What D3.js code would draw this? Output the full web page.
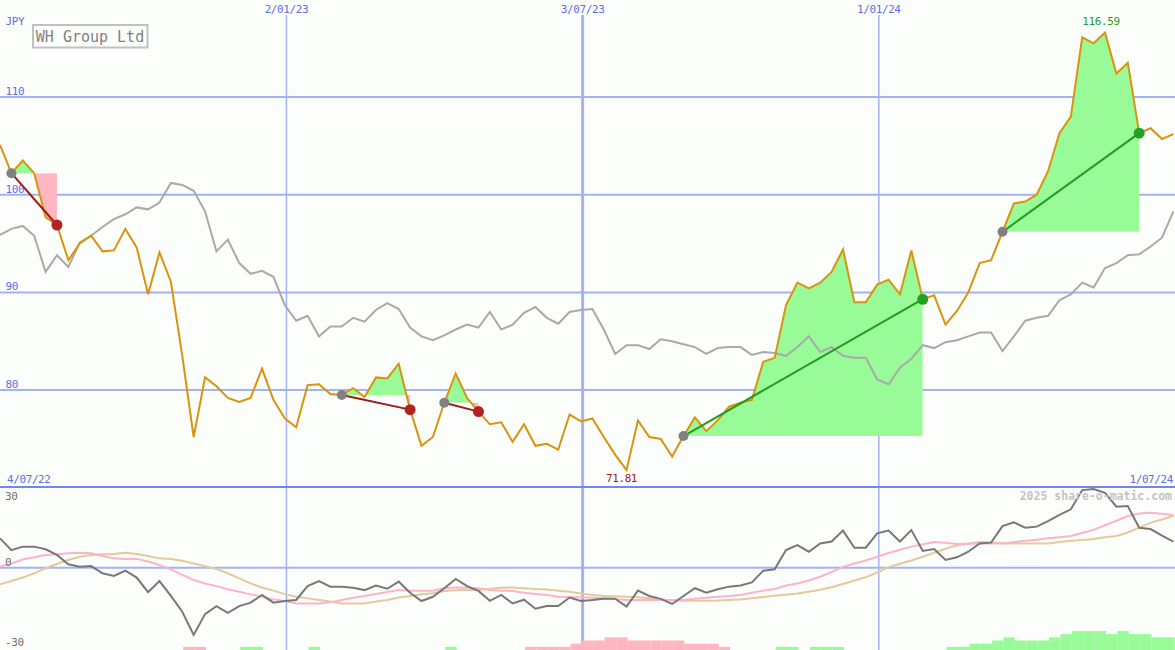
<!DOCTYPE html>
<html><head><meta charset="utf-8">
<script src="https://cdn.jsdelivr.net/npm/d3@7"></script>
<style>body{margin:0;background:#fcfefc}svg{display:block}</style>
</head><body><svg id="c" width="1175" height="650"></svg>
<script>
// ---------- DATA ----------
const firstWeek = "2022-07-10";
const axisStart = "2022-07-10";
const axisEnd = "2024-07-01";
const price = [105.1,102.2,103.5,102.2,97.7,96.9,93.3,95.0,95.8,94.2,
  94.3,96.5,94.6,89.8,94.1,91.1,83.5,75.2,81.3,80.4,
  79.2,78.8,79.2,82.2,79.0,77.1,76.2,80.5,80.6,79.6,
  79.5,80.2,79.3,81.3,81.2,82.7,78.0,74.3,75.2,78.7,
  81.7,79.2,77.8,76.5,76.7,74.7,76.5,74.3,74.5,73.9,
  77.5,76.8,77.1,75.2,73.4,71.81,76.9,75.2,75.0,73.2,
  75.3,77.2,75.8,76.9,78.3,78.7,79.0,82.9,83.3,88.7,
  91.0,90.4,91.0,92.1,94.4,89.0,89.0,90.8,91.3,89.8,
  94.3,89.3,89.7,86.7,88.1,90.0,93.0,93.3,96.2,99.1,
  99.3,100.0,102.4,106.3,108.0,116.1,115.5,116.59,112.4,113.5,
  106.3,106.8,105.7,106.2];
const relative = [95.9,96.5,96.8,95.8,92.1,93.8,92.6,95.1,95.8,96.7,
  97.5,98.0,98.7,98.5,99.2,101.2,101.0,100.4,98.3,94.2,
  95.4,93.0,91.9,92.2,91.6,88.7,87.1,87.6,85.5,86.5,
  86.5,87.4,87.0,88.2,88.9,88.3,86.4,85.5,85.1,85.6,
  86.2,86.7,86.4,88.0,86.2,86.7,87.9,88.5,87.4,86.8,
  88.0,88.2,88.3,86.2,83.7,84.6,84.6,84.2,85.2,85.0,
  84.7,84.4,83.7,84.3,84.4,84.4,83.6,83.9,83.8,83.5,
  84.4,85.5,83.9,84.4,83.5,83.3,83.3,81.1,80.6,82.3,
  83.2,84.6,84.3,84.9,85.1,85.5,85.9,85.9,84.0,85.5,
  87.1,87.4,87.6,89.2,89.8,91.0,90.5,92.5,93.0,93.8,
  93.9,94.7,95.6,98.3];
const momentum = [11.0,6.6,7.9,7.9,6.9,4.8,1.3,0.4,0.6,-2.1,
  -3.1,-1.1,-3.7,-9.2,-5.0,-10.6,-16.5,-25.2,-17.4,-14.4,
  -16.9,-14.4,-13.1,-10.2,-13.1,-12.5,-12.1,-6.9,-5.0,-7.1,
  -7.1,-7.5,-8.4,-6.7,-7.9,-5.2,-9.4,-12.5,-10.9,-7.7,
  -4.2,-6.9,-8.7,-12.4,-10.2,-13.4,-12.0,-15.4,-14.4,-14.4,
  -11.2,-12.5,-12.1,-11.6,-11.6,-14.6,-8.6,-10.6,-11.7,-13.6,
  -10.6,-7.7,-9.4,-8.1,-7.1,-6.7,-5.5,-1.1,-0.6,6.6,
  8.5,6.0,9.1,9.8,13.9,7.5,7.5,12.9,13.9,9.8,
  14.1,6.3,7.0,2.9,3.9,6.0,9.1,9.4,15.6,17.0,
  15.0,15.4,17.5,19.8,21.9,29.1,29.5,28.1,22.9,23.1,
  15.0,14.5,12.0,9.8];
const maFast = [0.4,1.6,3.1,3.9,4.8,5.0,5.4,5.6,5.4,4.4,
  3.5,3.3,3.3,2.3,1.0,-0.6,-2.7,-4.6,-5.9,-6.9,
  -8.1,-9.0,-10.0,-10.9,-11.9,-12.5,-13.4,-13.4,-13.4,-13.0,
  -12.1,-11.3,-10.6,-9.9,-9.1,-8.4,-8.6,-8.6,-8.6,-7.7,
  -7.4,-7.5,-7.7,-8.4,-8.6,-8.7,-9.4,-9.9,-10.2,-10.9,
  -11.0,-11.1,-11.3,-11.5,-11.7,-12.1,-12.1,-12.1,-12.1,-12.1,
  -12.1,-11.6,-11.3,-10.9,-10.6,-10.2,-9.4,-8.6,-8.0,-6.7,
  -5.9,-4.8,-3.4,-1.6,0.3,1.6,2.7,4.1,5.5,6.7,
  7.9,8.8,9.6,9.4,8.9,9.0,9.1,9.1,9.1,9.6,
  10.1,10.5,11.0,11.4,11.9,13.0,14.2,15.9,17.6,19.4,
  20.3,20.6,20.2,19.8];
const maSlow = [-6.2,-5.0,-3.7,-2.1,-0.2,1.4,2.9,4.1,4.8,5.0,
  5.1,5.6,5.1,4.4,3.5,3.3,2.6,1.6,0.6,-0.5,
  -2.1,-4.0,-5.9,-7.4,-8.6,-9.9,-10.9,-11.5,-12.1,-12.7,
  -13.4,-13.4,-13.4,-12.7,-12.1,-11.2,-10.6,-10.0,-9.6,-8.7,
  -8.5,-8.4,-8.4,-7.9,-7.5,-7.4,-7.7,-8.0,-8.2,-8.6,
  -9.0,-9.7,-10.2,-10.6,-10.7,-10.9,-11.1,-11.5,-11.9,-12.3,
  -12.4,-12.4,-12.4,-12.3,-12.1,-11.9,-11.5,-11.0,-10.5,-10.1,
  -9.7,-9.0,-8.3,-7.3,-6.1,-4.8,-3.6,-1.8,0.2,1.5,
  2.7,4.1,5.6,7.1,8.4,9.0,9.6,9.5,9.1,9.1,
  9.1,9.1,9.1,9.6,10.1,10.4,10.8,11.4,11.9,13.2,
  15.0,16.9,18.1,19.5];
const histogram = [0,0,0,0,0,0,0,0,0,0,
  0,0,0,0,0,0,-1,-1,0,0,
  0,1,1,0,0,0,0,1,0,0,
  0,0,0,0,0,0,0,0,0,1,
  0,0,0,0,0,0,-1,-1,-1,-1,
  -2,-3,-3,-4,-4,-3,-3,-3,-3,-3,
  -2,-2,-2,-1,0,0,0,0,1,1,
  0,1,1,1,0,0,0,0,0,0,
  0,0,0,1,1,2,2,3,4,3,
  3,3,4,5,6,6,6,5,6,5,
  5,4,4,4];
const trades = [
  {entry: 1, exit: 5},
  {entry: 30, exit: 36},
  {entry: 39, exit: 42},
  {entry: 60, exit: 81},
  {entry: 88, exit: 100}
];
const priceTicks = [80, 90, 100, 110];
const dateTicks = ["2023-01-02", "2023-07-03", "2024-01-01"];
const dateTickLabels = ["2/01/23", "3/07/23", "1/01/24"];
const oscTicks = [30, 0, -30];
const title = "WH Group Ltd";
const currency = "JPY";
const startLabel = "4/07/22";
const endLabel = "1/07/24";
const watermark = "2025 share-o-matic.com";

// ---------- SETUP ----------
const W = 1175, H = 650, SPLIT = 487;
const parse = d3.utcParse("%Y-%m-%d");
const d0 = parse(firstWeek);
const dates = price.map((_, i) => d3.utcDay.offset(d0, 7 * i));
const x = d3.scaleUtc().domain([parse(axisStart), parse(axisEnd)]).range([0, W]);
const y = d3.scaleLinear().domain([70, 120]).range([487.8, -0.7]);
const yo = d3.scaleLinear().domain([-30, 30]).range([647.7, 487.7]);
const yh = d3.scaleLinear().domain([0, 6]).range([650, 631]);

const svg = d3.select("#c");
const FONT = "'DejaVu Sans Mono', monospace";
const FS = 11;
const BLUE_TXT = "#5a6ee8", GRID = "#a4b2f2";
const tickWidth = d => (parse(d).getUTCMonth() === 6 ? 3 : 1.5);

svg.append("rect").attr("width", W).attr("height", H).attr("fill", "#fcfefc");
const defs = svg.append("defs");
defs.append("clipPath").attr("id", "topClip").append("rect").attr("x", 0).attr("y", 0).attr("width", W).attr("height", SPLIT);
defs.append("clipPath").attr("id", "botClip").append("rect").attr("x", 0).attr("y", SPLIT).attr("width", W).attr("height", H - SPLIT);

// vertical grid
svg.append("g").selectAll("line").data(dateTicks).join("line")
  .attr("x1", d => x(parse(d))).attr("x2", d => x(parse(d)))
  .attr("y1", 15).attr("y2", H)
  .attr("stroke", GRID).attr("stroke-width", tickWidth);
svg.append("g").selectAll("text").data(dateTicks).join("text")
  .attr("x", d => x(parse(d))).attr("y", 13)
  .attr("text-anchor", "middle").attr("font-family", FONT).attr("font-size", FS)
  .attr("letter-spacing", -0.4)
  .attr("fill", BLUE_TXT).text((d, i) => dateTickLabels[i]);

// horizontal grid (price)
svg.append("g").selectAll("line").data(priceTicks).join("line")
  .attr("x1", 0).attr("x2", W).attr("y1", d => y(d)).attr("y2", d => y(d))
  .attr("stroke", GRID).attr("stroke-width", 2);
svg.append("g").selectAll("text").data(priceTicks).join("text")
  .attr("x", 5.5).attr("y", d => y(d) - 2)
  .attr("font-family", FONT).attr("font-size", FS).attr("letter-spacing", -0.4)
  .attr("fill", BLUE_TXT).text(d => d);

// oscillator zero line
svg.append("line").attr("x1", 0).attr("x2", W).attr("y1", yo(0)).attr("y2", yo(0))
  .attr("stroke", GRID).attr("stroke-width", 2);

// histogram bars
const botG = svg.append("g").attr("clip-path", "url(#botClip)");
botG.append("g").selectAll("rect").data(histogram.map((v, i) => ({v, i})).filter(d => d.v !== 0)).join("rect")
  .attr("x", d => x(dates[d.i]) + 1)
  .attr("width", d => x(d3.utcDay.offset(dates[d.i], 7)) - x(dates[d.i]))
  .attr("y", d => yh(Math.abs(d.v)))
  .attr("height", d => yh(0) - yh(Math.abs(d.v)))
  .attr("fill", d => d.v > 0 ? "#98fb98" : "#ffb6c1");

// trade fills
const topG = svg.append("g").attr("clip-path", "url(#topClip)");
trades.forEach((t, k) => {
  const base = y(price[t.entry]);
  const xa = x(dates[t.entry]), xb = x(dates[t.exit]);
  defs.append("clipPath").attr("id", "up" + k).append("rect")
    .attr("x", xa).attr("y", 0).attr("width", xb - xa).attr("height", base);
  defs.append("clipPath").attr("id", "dn" + k).append("rect")
    .attr("x", xa).attr("y", base).attr("width", xb - xa).attr("height", SPLIT - base);
  const idx = d3.range(t.entry, t.exit + 1);
  const area = d3.area().x(i => x(dates[i])).y0(base).y1(i => y(price[i]));
  topG.append("path").attr("d", area(idx)).attr("fill", "#98fb98").attr("clip-path", `url(#up${k})`);
  topG.append("path").attr("d", area(idx)).attr("fill", "#ffb6c1").attr("clip-path", `url(#dn${k})`);
});

// relative (grey) line and price line
topG.append("path").datum(relative)
  .attr("d", d3.line().x((d, i) => x(dates[i])).y(d => y(d)))
  .attr("fill", "none").attr("stroke", "#a9a9a9").attr("stroke-width", 2);
topG.append("path").datum(price)
  .attr("d", d3.line().x((d, i) => x(dates[i])).y(d => y(d)))
  .attr("fill", "none").attr("stroke", "#d9930d").attr("stroke-width", 2);

// trade lines & markers
trades.forEach(t => {
  const win = price[t.exit] > price[t.entry];
  const xa = x(dates[t.entry]), xb = x(dates[t.exit]);
  topG.append("line").attr("x1", xa).attr("y1", y(price[t.entry])).attr("x2", xb).attr("y2", y(price[t.exit]))
    .attr("stroke", win ? "#239b23" : "#9e1a1a").attr("stroke-width", 2);
  topG.append("circle").attr("cx", xa).attr("cy", y(price[t.entry])).attr("r", 5).attr("fill", "#808080");
  topG.append("circle").attr("cx", xb).attr("cy", y(price[t.exit])).attr("r", 5.5)
    .attr("fill", win ? "#24a024" : "#b22222");
});

// oscillator lines
const lo = d3.line().x((d, i) => x(dates[i])).y(d => yo(d));
botG.append("path").datum(maSlow).attr("d", lo).attr("fill", "none").attr("stroke", "#e3c99b").attr("stroke-width", 2);
botG.append("path").datum(maFast).attr("d", lo).attr("fill", "none").attr("stroke", "#fbb4c9").attr("stroke-width", 2);
botG.append("path").datum(momentum).attr("d", lo).attr("fill", "none").attr("stroke", "#787878").attr("stroke-width", 2);

// separator
svg.append("line").attr("x1", 0).attr("x2", W).attr("y1", SPLIT).attr("y2", SPLIT)
  .attr("stroke", "#7485ee").attr("stroke-width", 2);

// labels
const lbl = (sel) => sel.attr("font-family", FONT).attr("font-size", FS).attr("letter-spacing", -0.4);
lbl(svg.append("text").attr("x", 5.5).attr("y", 25)).attr("fill", BLUE_TXT).text(currency);
lbl(svg.append("text").attr("x", 7).attr("y", 483)).attr("fill", BLUE_TXT).text(startLabel);
lbl(svg.append("text").attr("x", 1173).attr("y", 483).attr("text-anchor", "end")).attr("fill", BLUE_TXT).text(endLabel);
svg.append("text").attr("x", 1172).attr("y", 500).attr("text-anchor", "end").attr("font-family", FONT)
  .attr("font-size", 11.5).attr("font-weight", "bold").attr("fill", "#c4c4c4").text(watermark);
svg.append("g").selectAll("text").data(oscTicks).join("text")
  .attr("x", 5).attr("y", (d, i) => [500, 566, 646][i])
  .attr("font-family", FONT).attr("font-size", FS).attr("letter-spacing", -0.4)
  .attr("fill", "#707070").text(d => d);

const iMax = d3.maxIndex(price), iMin = d3.minIndex(price);
lbl(svg.append("text").attr("x", x(dates[iMax]) - 4).attr("y", y(price[iMax]) - 8)
  .attr("text-anchor", "middle")).attr("fill", "#22a022").text(price[iMax].toFixed(2));
lbl(svg.append("text").attr("x", x(dates[iMin]) - 5).attr("y", 482)
  .attr("text-anchor", "middle")).attr("fill", "#a01818").text(price[iMin].toFixed(2));

// title box
svg.append("rect").attr("x", 33).attr("y", 25).attr("width", 114.5).attr("height", 22.5)
  .attr("fill", "#fcfefc").attr("stroke", "#c0c0c0").attr("stroke-width", 2);
svg.append("text").attr("x", 90).attr("y", 41.5).attr("text-anchor", "middle")
  .attr("font-family", FONT).attr("font-size", 15).attr("fill", "#808080").text(title);
</script></body></html>
